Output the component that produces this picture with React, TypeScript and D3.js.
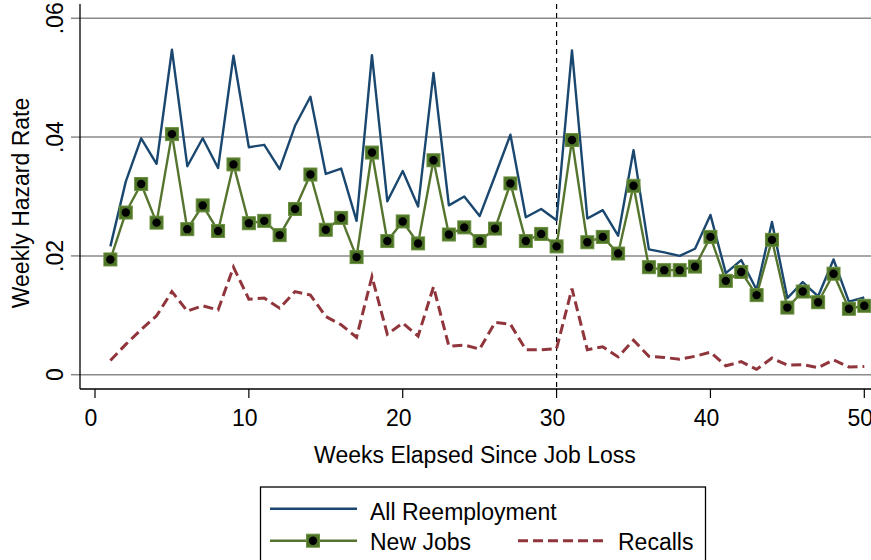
import * as d3 from "d3";

const weeks = d3.range(1, 51);

const allReemployment = [
  0.0216, 0.0325, 0.0398, 0.0355, 0.0547, 0.0351, 0.0398, 0.0348, 0.0537, 0.0383,
  0.0387, 0.0346, 0.0419, 0.0468, 0.0338, 0.0347, 0.0259, 0.0538, 0.0292, 0.0343,
  0.0283, 0.0508, 0.0285, 0.03, 0.0267, 0.0335, 0.0404, 0.0265, 0.0279, 0.026,
  0.0546, 0.0263, 0.0277, 0.0234, 0.0378, 0.0211, 0.0206, 0.02, 0.0212, 0.0269,
  0.0171, 0.0193, 0.0143, 0.0257, 0.0129, 0.0156, 0.0132, 0.0194, 0.0123, 0.013,
];

const newJobs = [
  0.0194, 0.0273, 0.0321, 0.0256, 0.0405, 0.0245, 0.0285, 0.0242, 0.0354, 0.0255,
  0.0259, 0.0235, 0.0279, 0.0337, 0.0244, 0.0264, 0.0198, 0.0374, 0.0225, 0.0258,
  0.0221, 0.0361, 0.0236, 0.0248, 0.0225, 0.0246, 0.0322, 0.0225, 0.0237, 0.0216,
  0.0395, 0.0223, 0.0232, 0.0204, 0.0318, 0.0181, 0.0176, 0.0176, 0.0182, 0.0232,
  0.0158, 0.0173, 0.0134, 0.0227, 0.0113, 0.014, 0.0122, 0.017, 0.0111, 0.0116,
];

const recalls = [
  0.0024, 0.0051, 0.0076, 0.0099, 0.014, 0.0107, 0.0116, 0.0109, 0.0181, 0.0127,
  0.0129, 0.0112, 0.014, 0.0134, 0.0098, 0.0084, 0.0063, 0.0165, 0.0068, 0.0087,
  0.0065, 0.0148, 0.0048, 0.005, 0.0043, 0.0088, 0.0085, 0.0042, 0.0042, 0.0044,
  0.0145, 0.0042, 0.0047, 0.003, 0.0058, 0.0031, 0.0029, 0.0026, 0.0031, 0.0038,
  0.0015, 0.0022, 0.0009, 0.0028, 0.0016, 0.0017, 0.0012, 0.0025, 0.0013, 0.0014,
];

const xTicks = [0, 10, 20, 30, 40, 50];
const yTicks = [0, 0.02, 0.04, 0.06];
const yTickLabels = ["0", ".02", ".04", ".06"];
const cutoffWeek = 30;

const NAVY = "#1a476f";
const MAROON = "#90353b";
const GREEN = "#55752f";
const FONT = "'Liberation Sans', Arial, sans-serif";

function Marker({ cx, cy }: { cx: number; cy: number }) {
  return (
    <g>
      <rect x={cx - 6.5} y={cy - 6.5} width={13} height={13} fill="#4d7326" stroke="#6a8f3e" strokeWidth={1} />
      <circle cx={cx} cy={cy} r={4.2} fill="#000" />
    </g>
  );
}

export default function App() {
  const width = 871;
  const height = 560;
  const plotLeft = 80;
  const plotRight = 871;
  const plotTop = 4;
  const axisY = 389;

  const x = d3.scaleLinear().domain([0, 50]).range([95, 864.3]);
  const y = d3.scaleLinear().domain([0, 0.06]).range([374.7, 18.3]);

  const line = d3
    .line<number>()
    .x((_, i) => x(weeks[i]))
    .y((d) => y(d));

  return (
    <>
      <style>{`body{margin:0}`}</style>
      <svg width={width} height={height} style={{ display: "block", fontFamily: FONT }}>
        <rect width={width} height={height} fill="#fff" />
        {yTicks.map((t, i) => (
          <g key={t}>
            <line x1={plotLeft} x2={plotRight} y1={y(t)} y2={y(t)} stroke="#8a8a8a" strokeWidth={1.5} />
            <line x1={plotLeft - 9} x2={plotLeft} y1={y(t)} y2={y(t)} stroke="#8a8a8a" strokeWidth={1.5} />
            <text
              transform={`translate(63, ${y(t)}) rotate(-90)`}
              textAnchor="middle"
              fontSize={23}
              fill="#000"
            >
              {yTickLabels[i]}
            </text>
          </g>
        ))}
        <line
          x1={x(cutoffWeek)}
          x2={x(cutoffWeek)}
          y1={plotTop}
          y2={axisY}
          stroke="#000"
          strokeWidth={1.2}
          strokeDasharray="5,4"
        />
        <path
          d={line(recalls) ?? ""}
          fill="none"
          stroke={MAROON}
          strokeWidth={3}
          strokeDasharray="10,5"
        />
        <path d={line(allReemployment) ?? ""} fill="none" stroke={NAVY} strokeWidth={2.4} strokeLinejoin="round" />
        <path d={line(newJobs) ?? ""} fill="none" stroke={GREEN} strokeWidth={2.4} strokeLinejoin="round" />
        {newJobs.map((v, i) => (
          <Marker key={i} cx={x(weeks[i])} cy={y(v)} />
        ))}
        <line x1={plotLeft} x2={plotLeft} y1={plotTop} y2={axisY} stroke="#000" strokeWidth={1.3} />
        <line x1={plotLeft} x2={plotRight} y1={axisY} y2={axisY} stroke="#000" strokeWidth={1.3} />
        {xTicks.map((t) => (
          <g key={t}>
            <line x1={x(t)} x2={x(t)} y1={axisY} y2={axisY + 9} stroke="#000" strokeWidth={1.2} />
            <text x={x(t) - 4} y={426} textAnchor="middle" fontSize={23} fill="#000">
              {t}
            </text>
          </g>
        ))}
        <text x={475} y={463} textAnchor="middle" fontSize={23} fill="#000">
          Weeks Elapsed Since Job Loss
        </text>
        <text transform="translate(29, 203) rotate(-90)" textAnchor="middle" fontSize={23} fill="#000">
          Weekly Hazard Rate
        </text>

        <g>
          <rect x={260.5} y={487} width={445} height={100} fill="#fff" stroke="#000" strokeWidth={1.3} />
          <line x1={270} x2={357} y1={508.7} y2={508.7} stroke={NAVY} strokeWidth={2.4} />
          <text x={370} y={520} fontSize={23} fill="#000">All Reemployment</text>
          <line x1={270} x2={357} y1={540.7} y2={540.7} stroke={GREEN} strokeWidth={2.4} />
          <Marker cx={313} cy={540.7} />
          <text x={370} y={550} fontSize={23} fill="#000">New Jobs</text>
          <line x1={518} x2={605} y1={540.7} y2={540.7} stroke={MAROON} strokeWidth={3} strokeDasharray="10,5" />
          <text x={618} y={550} fontSize={23} fill="#000">Recalls</text>
        </g>
      </svg>
    </>
  );
}
